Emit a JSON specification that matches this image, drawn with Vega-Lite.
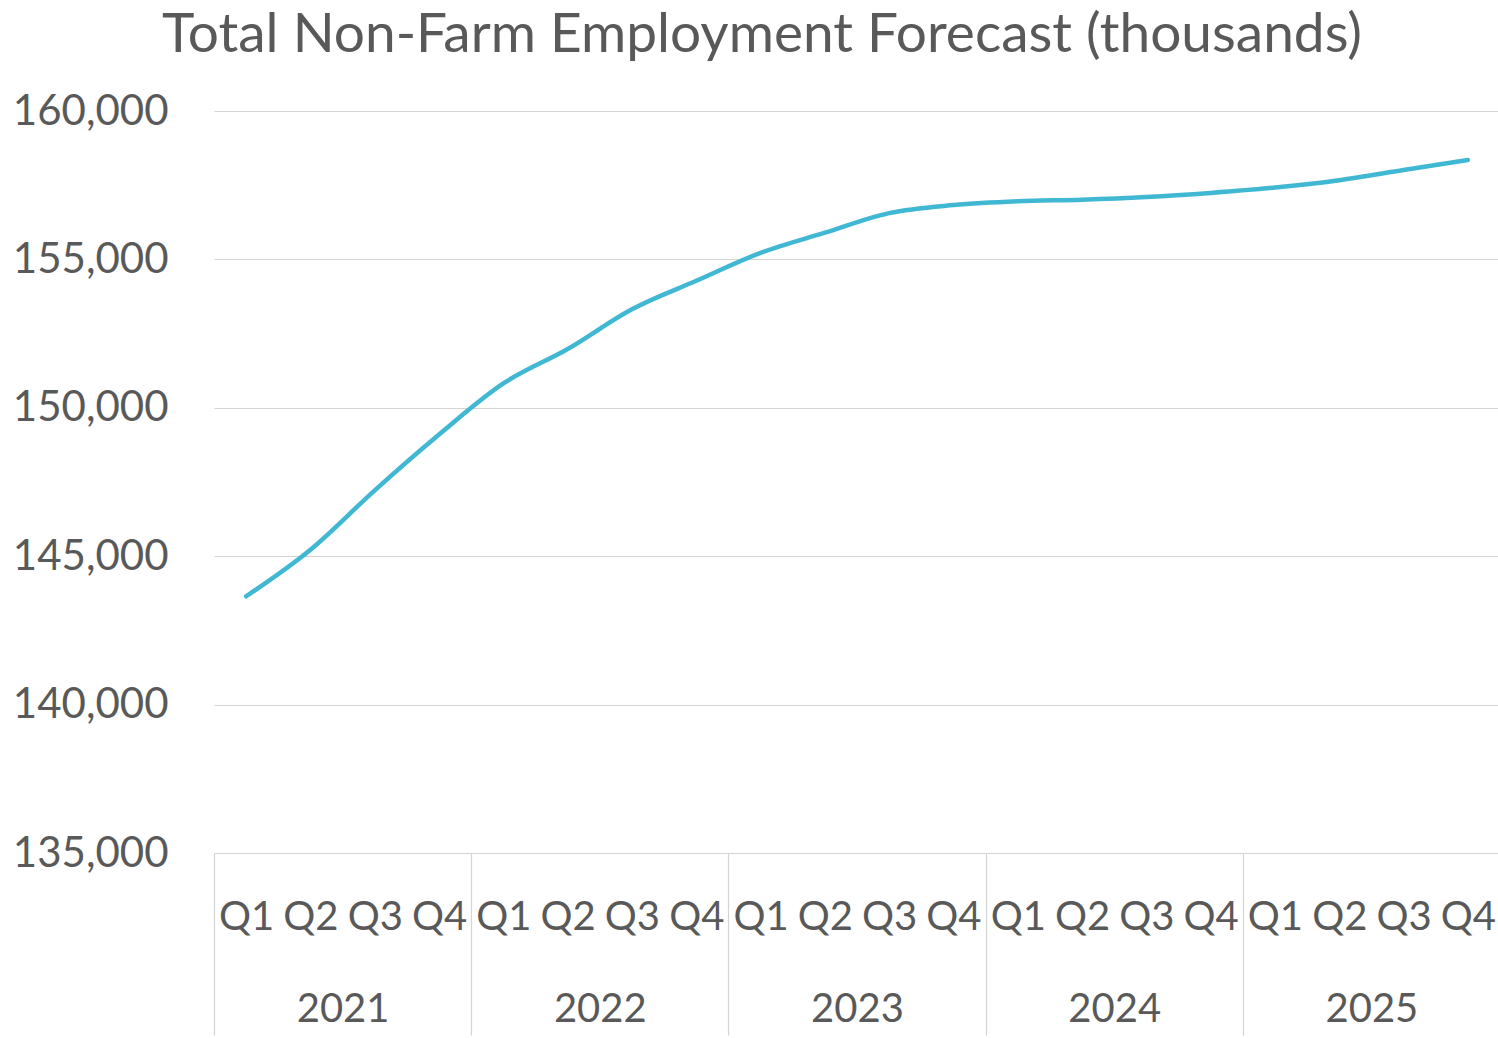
{
  "$schema": "https://vega.github.io/schema/vega-lite/v6.json",
  "width": 1286,
  "height": 742,
  "autosize": "none",
  "padding": {"left": 214, "top": 111, "right": 0, "bottom": 185},
  "background": "white",
  "config": {
    "view": {"stroke": null},
    "font": "Lato"
  },
  "title": {
    "text": "Total Non-Farm Employment Forecast (thousands)",
    "anchor": "middle",
    "frame": "group",
    "fontSize": 55,
    "font": "Lato",
    "fontWeight": "normal",
    "color": "#595959",
    "baseline": "alphabetic",
    "offset": 43,
    "dx": -95,
    "dy": 60
  },
  "data": {
    "values": [
      {"year": "2021", "period": "2021 Q1", "value": 143650},
      {"year": "2021", "period": "2021 Q2", "value": 145220},
      {"year": "2021", "period": "2021 Q3", "value": 147220},
      {"year": "2021", "period": "2021 Q4", "value": 149100},
      {"year": "2022", "period": "2022 Q1", "value": 150820},
      {"year": "2022", "period": "2022 Q2", "value": 151980},
      {"year": "2022", "period": "2022 Q3", "value": 153320},
      {"year": "2022", "period": "2022 Q4", "value": 154280},
      {"year": "2023", "period": "2023 Q1", "value": 155220},
      {"year": "2023", "period": "2023 Q2", "value": 155900},
      {"year": "2023", "period": "2023 Q3", "value": 156560},
      {"year": "2023", "period": "2023 Q4", "value": 156830},
      {"year": "2024", "period": "2024 Q1", "value": 156960},
      {"year": "2024", "period": "2024 Q2", "value": 157010},
      {"year": "2024", "period": "2024 Q3", "value": 157100},
      {"year": "2024", "period": "2024 Q4", "value": 157240},
      {"year": "2025", "period": "2025 Q1", "value": 157420},
      {"year": "2025", "period": "2025 Q2", "value": 157670},
      {"year": "2025", "period": "2025 Q3", "value": 158010},
      {"year": "2025", "period": "2025 Q4", "value": 158350}
    ]
  },
  "layer": [
    {
      "mark": {"type": "line", "color": "#41B8D3", "strokeWidth": 4.5, "interpolate": "monotone", "strokeCap": "round"},
      "encoding": {
        "x": {
          "field": "period",
          "type": "ordinal",
          "sort": null,
          "scale": {"type": "point", "padding": 0.5},
          "axis": {
            "orient": "bottom",
            "title": null,
            "domain": false,
            "ticks": false,
            "labelExpr": "slice(datum.value, 5)",
            "labelAngle": 0,
            "labelFontSize": 40,
            "labelColor": "#595959",
            "labelFont": "Lato",
            "labelPadding": 44,
            "labelBaseline": "top"
          }
        },
        "y": {
          "field": "value",
          "type": "quantitative",
          "scale": {"domain": [135000, 160000], "zero": false, "nice": false},
          "axis": {
            "title": null,
            "values": [135000, 140000, 145000, 150000, 155000, 160000],
            "format": ",.0f",
            "domain": false,
            "ticks": false,
            "grid": true,
            "gridColor": "#d4d4d4",
            "gridWidth": 1.2,
            "labelFontSize": 42,
            "labelColor": "#595959",
            "labelFont": "Lato",
            "labelPadding": 46
          }
        }
      }
    },
    {
      "mark": {"type": "point", "opacity": 0},
      "encoding": {
        "x": {
          "field": "year",
          "type": "ordinal",
          "sort": null,
          "scale": {"type": "band", "paddingInner": 0, "paddingOuter": 0},
          "axis": {
            "orient": "bottom",
            "title": null,
            "domain": false,
            "ticks": true,
            "tickBand": "extent",
            "tickSize": 182,
            "tickColor": "#d4d4d4",
            "tickWidth": 1.2,
            "labelAngle": 0,
            "labelFontSize": 40,
            "labelColor": "#595959",
            "labelFont": "Lato",
            "labelPadding": -46,
            "labelBaseline": "top"
          }
        }
      }
    }
  ],
  "resolve": {"scale": {"x": "independent"}, "axis": {"x": "independent"}}
}
